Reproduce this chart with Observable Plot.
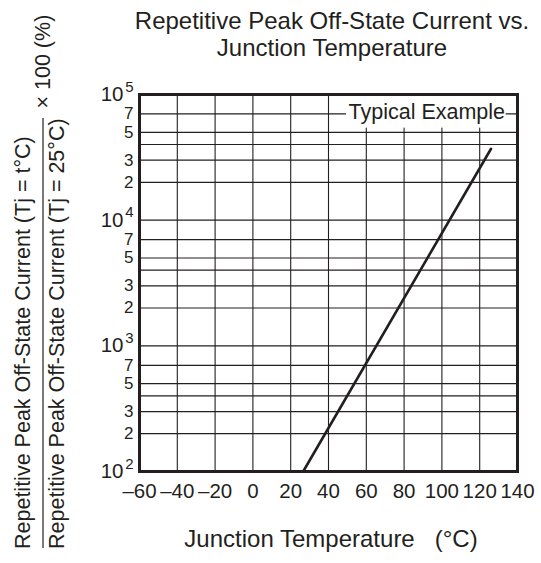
<!DOCTYPE html>
<html><head><meta charset="utf-8">
<script src="https://cdn.jsdelivr.net/npm/d3@7"></script>
<script src="https://cdn.jsdelivr.net/npm/@observablehq/plot@0.6"></script>
<style>body{margin:0;background:#fff}</style>
</head><body><div id="chart"></div>
<script>
const titleLines = ["Repetitive Peak Off-State Current vs.", "Junction Temperature"];
const xLabel = "Junction Temperature   (°C)";
const yLabelNum = "Repetitive Peak Off-State Current (Tj = t°C)";
const yLabelDen = "Repetitive Peak Off-State Current (Tj = 25°C)";
const yLabelFactor = "× 100 (%)";
const legendText = "Typical Example";

const xTicks = [-60, -40, -20, 0, 20, 40, 60, 80, 100, 120, 140];
const xTickLabels = ["–60", "–40", "–20", "0", "20", "40", "60", "80", "100", "120", "140"];
const xGrid = [-40, -20, 0, 20, 40, 60, 80, 100, 120];
const yMajor = [1e2, 1e3, 1e4, 1e5];
const yMajorExp = ["2", "3", "4", "5"];
const yMinor = [200, 300, 500, 700, 2000, 3000, 5000, 7000, 20000, 30000, 50000, 70000];
const yMinorLabels = ["2", "3", "5", "7", "2", "3", "5", "7", "2", "3", "5", "7"];
const yGrid = [200, 300, 400, 500, 700, 1000, 2000, 3000, 4000, 5000, 7000, 10000, 20000, 30000, 40000, 50000, 70000];
// Typical example curve (straight on semi-log axes)
const temps = [26.6, 126];
const ratios = [100, 37000];
const legendBox = [{x1: 49.5, x2: 134, y1: 54000, y2: 100000}];
const legendPos = [{x: 92, y: 72000}];

const ink = "#231f20";
const font = "'Liberation Sans', Arial, Helvetica, sans-serif";

const chart = Plot.plot({
  width: 541,
  height: 563,
  marginTop: 94,
  marginBottom: 92,
  marginLeft: 139,
  marginRight: 24,
  style: {fontFamily: font, color: ink, background: "#fff", overflow: "visible"},
  x: {type: "linear", domain: [-60, 140], axis: null},
  y: {type: "log", domain: [100, 100000], axis: null},
  marks: [
    Plot.ruleX(xGrid, {stroke: ink, strokeWidth: 1.1}),
    Plot.ruleY(yGrid, {stroke: ink, strokeWidth: 1.2}),
    Plot.rect(legendBox, {x1: "x1", x2: "x2", y1: "y1", y2: "y2", fill: "#fff"}),
    Plot.text(legendPos, {x: "x", y: "y", text: () => legendText, fontSize: 21.5, fill: ink}),
    Plot.line(temps.map((t, i) => ({t, r: ratios[i]})), {x: "t", y: "r", stroke: ink, strokeWidth: 2.6}),
    Plot.frame({stroke: ink, strokeWidth: 3}),
    // x tick labels
    Plot.text(xTicks, {x: d => d, text: (d, i) => xTickLabels[i], frameAnchor: "bottom", lineAnchor: "top", dy: 12, fontSize: 20.5, fill: ink}),
    // y tick labels
    Plot.text(yMinor, {y: d => d, text: (d, i) => yMinorLabels[i], frameAnchor: "left", textAnchor: "end", dx: -6, fontSize: 17, fill: ink}),
    Plot.text(yMajor, {y: d => d, text: () => "10", frameAnchor: "left", textAnchor: "end", dx: -16, fontSize: 20.5, fill: ink}),
    Plot.text(yMajor, {y: d => d, text: (d, i) => yMajorExp[i], frameAnchor: "left", textAnchor: "end", dx: -6, dy: -7.5, fontSize: 15, fill: ink}),
    // title
    Plot.text([titleLines[0]], {frameAnchor: "top", dx: 3.5, dy: -66, lineAnchor: "bottom", fontSize: 24, fill: ink}),
    Plot.text([titleLines[1]], {frameAnchor: "top", dx: 3.5, dy: -39, lineAnchor: "bottom", fontSize: 24, fill: ink}),
    // x label
    Plot.text([xLabel], {frameAnchor: "bottom", dx: 2.5, dy: 75, lineAnchor: "bottom", fontSize: 24, fill: ink}),
    // y label (fraction)
    Plot.text([yLabelNum], {frameAnchor: "bottom-left", rotate: -90, textAnchor: "start", lineAnchor: "bottom", dx: -109.7, dy: 77.5, fontSize: 21.5, fill: ink}),
    Plot.text([yLabelDen], {frameAnchor: "bottom-left", rotate: -90, textAnchor: "start", lineAnchor: "bottom", dx: -75.4, dy: 77.5, fontSize: 21.5, fill: ink}),
    Plot.text([yLabelFactor], {frameAnchor: "bottom-left", rotate: -90, textAnchor: "start", lineAnchor: "bottom", dx: -89.5, dy: -363, fontSize: 21.5, fill: ink})
  ]
});

// fraction bar of the y-axis label
d3.select(chart).append("line")
  .attr("x1", 43).attr("x2", 43).attr("y1", 548).attr("y2", 118)
  .attr("stroke", ink).attr("stroke-width", 1.2);

document.getElementById("chart").appendChild(chart);
</script>
</body></html>
